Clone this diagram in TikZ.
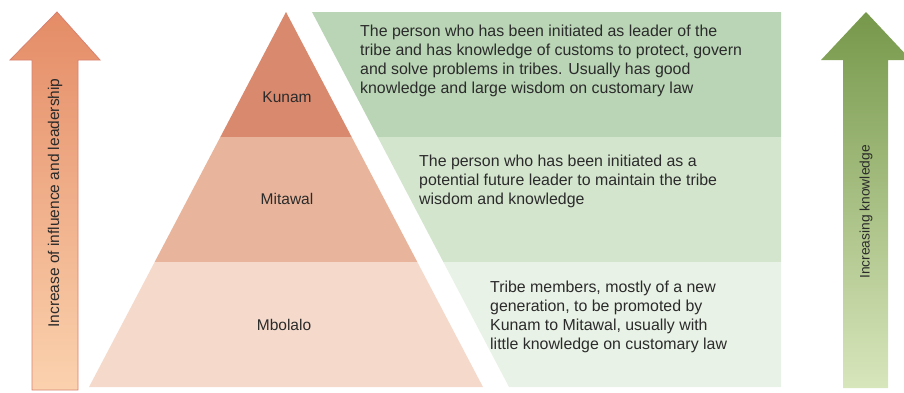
\documentclass[tikz,border=0pt]{standalone}
\usepackage{fontspec}
\setmainfont{Liberation Sans}
\usetikzlibrary{calc}
\definecolor{kunamcol}{HTML}{D9896D}
\definecolor{mitawalcol}{HTML}{E8B59C}
\definecolor{mbolalocol}{HTML}{F5DACC}
\definecolor{gtop}{HTML}{B9D5B5}
\definecolor{gmid}{HTML}{D4E5CE}
\definecolor{gbot}{HTML}{E9F2E6}
\definecolor{txtcol}{HTML}{2B2B2B}
\definecolor{orangetop}{HTML}{E48C66}
\definecolor{orangemid}{HTML}{F5A575}
\definecolor{orangebot}{HTML}{FBD2AE}
\definecolor{orangeline}{HTML}{D98070}
\definecolor{greentop}{HTML}{76984A}
\definecolor{greenbot}{HTML}{D8E6BC}
\begin{document}
\begin{tikzpicture}[x=1pt, y=-1pt,
    lbl/.style={text=txtcol, font=\fontsize{15.5}{17}\selectfont},
    desc/.style={text=txtcol, font=\fontsize{15.9}{19}\selectfont, align=left, anchor=north west, inner sep=0pt}]
    \useasboundingbox (0,0) rectangle (904,392);

    % Punti del triangolo e della fascia verde
    \coordinate (apex) at (286,12);
    \coordinate (bl) at (89,387);
    \coordinate (br) at (483,387);
    \coordinate (gtl) at (312,12);
    \coordinate (gbl) at (509,387);

    % --- Piramide a tre livelli ---
    \fill[kunamcol] (apex) -- ($(apex)!1/3!(br)$) -- ($(apex)!1/3!(bl)$) -- cycle;
    \fill[mitawalcol] ($(apex)!1/3!(bl)$) -- ($(apex)!1/3!(br)$) -- ($(apex)!2/3!(br)$) -- ($(apex)!2/3!(bl)$) -- cycle;
    \fill[mbolalocol] ($(apex)!2/3!(bl)$) -- ($(apex)!2/3!(br)$) -- (br) -- (bl) -- cycle;

    % --- Fasce verdi con le descrizioni ---
    \fill[gtop] (gtl) -- (781,12) -- (781,137) -- ($(gtl)!1/3!(gbl)$) -- cycle;
    \fill[gmid] ($(gtl)!1/3!(gbl)$) -- (781,137) -- (781,262) -- ($(gtl)!2/3!(gbl)$) -- cycle;
    \fill[gbot] ($(gtl)!2/3!(gbl)$) -- (781,262) -- (781,387) -- (gbl) -- cycle;

    % --- Frecce laterali ---
    \shade[top color=orangetop, middle color=orangemid, bottom color=orangebot, draw=orangeline, line width=0.8pt]
        (57,12) -- (100,60) -- (78,60) -- (78,390) -- (32,390) -- (32,60) -- (10,60) -- cycle;
    \shade[top color=greentop, bottom color=greenbot]
        (866,12) -- (911,60) -- (888,60) -- (888,388) -- (843,388) -- (843,60) -- (821,60) -- cycle;

    % --- Etichette ---
    \node[lbl] (kunam) at (287,97) {Kunam};
    \node[lbl] (mitawal) at (287,199) {Mitawal};
    \node[lbl] (mbolalo) at (284,325) {Mbolalo};
    \node[lbl, rotate=90] (influence) at (55,203) {Increase of influence and leadership};
    \node[lbl, rotate=90, font=\fontsize{13.8}{16}\selectfont] (knowledge) at (866,212) {Increasing knowledge};

    \node[desc] (dkunam) at (360,25) {The person who has been initiated as leader of the\\tribe and has knowledge of customs to protect, govern\\and solve problems in tribes. Usually has good\\knowledge and large wisdom on customary law};
    \node[desc] (dmitawal) at (419,155) {The person who has been initiated as a\\potential future leader to maintain the tribe\\wisdom and knowledge};
    \node[desc] (dmbolalo) at (490,281) {Tribe members, mostly of a new\\generation, to be promoted by\\Kunam to Mitawal, usually with\\little knowledge on customary law};
\end{tikzpicture}
\end{document}
